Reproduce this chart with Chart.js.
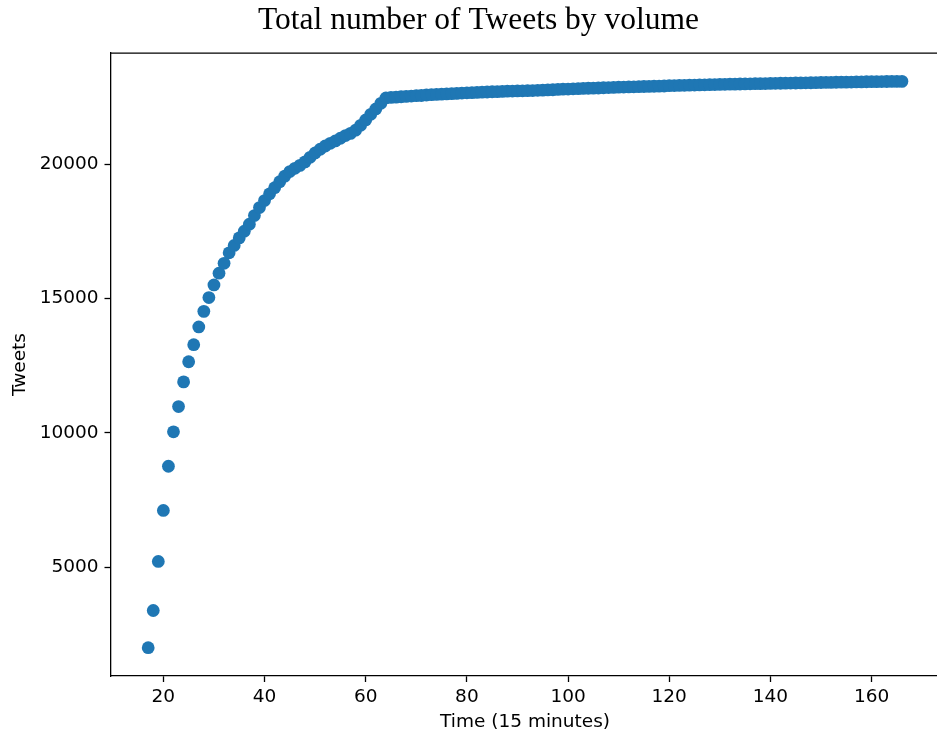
<!DOCTYPE html>
<html>
<head>
<meta charset="utf-8">
<title>Total number of Tweets by volume</title>
<script src="https://cdn.jsdelivr.net/npm/chart.js@4/dist/chart.umd.min.js"></script>
<style>
  html, body { margin: 0; padding: 0; background: #fff; overflow: hidden; }
  #wrap { width: 937px; height: 735px; overflow: hidden; }
</style>
</head>
<body>
<div id="wrap">
  <canvas id="tweetChart" width="946" height="735"></canvas>
</div>
<script>
// time step (15 minute buckets)
const timeSteps = [
  17, 18, 19, 20, 21, 22, 23, 24, 25, 26, 27, 28, 29, 30, 31, 32, 33, 34, 35, 36,
  37, 38, 39, 40, 41, 42, 43, 44, 45, 46, 47, 48, 49, 50, 51, 52, 53, 54, 55, 56,
  57, 58, 59, 60, 61, 62, 63, 64, 65, 66, 67, 68, 69, 70, 71, 72, 73, 74, 75, 76,
  77, 78, 79, 80, 81, 82, 83, 84, 85, 86, 87, 88, 89, 90, 91, 92, 93, 94, 95, 96,
  97, 98, 99, 100, 101, 102, 103, 104, 105, 106, 107, 108, 109, 110, 111, 112, 113, 114, 115, 116,
  117, 118, 119, 120, 121, 122, 123, 124, 125, 126, 127, 128, 129, 130, 131, 132, 133, 134, 135, 136,
  137, 138, 139, 140, 141, 142, 143, 144, 145, 146, 147, 148, 149, 150, 151, 152, 153, 154, 155, 156,
  157, 158, 159, 160, 161, 162, 163, 164, 165, 166
];

// running total of tweets at each step
const tweetTotals = [
  2005, 3390, 5215, 7115, 8760, 10040, 10980, 11900, 12650, 13285,
  13945, 14525, 15040, 15510, 15945, 16315, 16705, 16980, 17260, 17510,
  17770, 18090, 18390, 18650, 18900, 19130, 19350, 19560, 19730, 19850,
  19960, 20090, 20260, 20420, 20560, 20680, 20780, 20870, 20970, 21070,
  21150, 21270, 21450, 21650, 21860, 22060, 22270, 22470, 22490, 22500,
  22515, 22525, 22540, 22555, 22560, 22580, 22590, 22600, 22610, 22620,
  22630, 22640, 22650, 22660, 22665, 22675, 22685, 22690, 22700, 22705,
  22715, 22720, 22725, 22730, 22735, 22740, 22745, 22755, 22760, 22770,
  22775, 22785, 22795, 22800, 22810, 22815, 22825, 22830, 22835, 22840,
  22850, 22855, 22860, 22870, 22875, 22880, 22885, 22890, 22895, 22900,
  22905, 22910, 22915, 22925, 22930, 22935, 22940, 22945, 22950, 22955,
  22958, 22962, 22968, 22975, 22978, 22982, 22985, 22988, 22992, 22996,
  23000, 23003, 23006, 23010, 23013, 23016, 23020, 23023, 23026, 23030,
  23033, 23036, 23040, 23044, 23047, 23050, 23053, 23056, 23059, 23062,
  23065, 23068, 23072, 23075, 23077, 23079, 23081, 23083, 23084, 23086
];

const xTicks = [20, 40, 60, 80, 100, 120, 140, 160];
const yTicks = [5000, 10000, 15000, 20000];

const points = timeSteps.map((t, i) => ({ x: t, y: tweetTotals[i] }));

const labelFont = { family: 'DejaVu Sans', size: 18.5 };

// draws the top spine (chart.js only draws the axis borders)
const frameLine = {
  id: 'frameLine',
  afterDraw(chart) {
    const { ctx, chartArea } = chart;
    ctx.save();
    ctx.strokeStyle = '#000';
    ctx.lineWidth = 1.3;
    ctx.beginPath();
    ctx.moveTo(chartArea.left, chartArea.top);
    ctx.lineTo(chartArea.right, chartArea.top);
    ctx.stroke();
    ctx.restore();
  }
};

new Chart(document.getElementById('tweetChart').getContext('2d'), {
  type: 'scatter',
  data: {
    datasets: [{
      data: points,
      backgroundColor: '#1f77b4',
      borderWidth: 0,
      pointRadius: 6.4,
      pointHoverRadius: 6.4
    }]
  },
  plugins: [frameLine],
  options: {
    responsive: false,
    animation: false,
    layout: {
      padding: { left: 11, right: 0, top: 0, bottom: 0 }
    },
    plugins: {
      legend: { display: false },
      tooltip: { enabled: false },
      title: {
        display: true,
        text: 'Total number of Tweets by volume',
        color: '#000',
        font: { family: 'Liberation Serif', size: 31.5, weight: 'normal' },
        padding: { top: 2, bottom: 13.3 }
      }
    },
    scales: {
      x: {
        type: 'linear',
        min: 9.55,
        max: 173.45,
        afterBuildTicks: (scale) => {
          scale.ticks = xTicks.map(v => ({ value: v }));
        },
        afterFit: (scale) => {
          scale.height = 59;
        },
        ticks: {
          color: '#000',
          font: labelFont,
          padding: 4,
          autoSkip: false,
          maxRotation: 0,
          callback: (v) => String(v)
        },
        grid: {
          drawOnChartArea: false,
          drawTicks: true,
          tickLength: 6,
          tickWidth: 1.3,
          tickColor: '#000'
        },
        border: { display: true, color: '#000', width: 1.3 },
        title: {
          display: true,
          text: 'Time (15 minutes)',
          color: '#000',
          font: labelFont,
          padding: { top: 2, bottom: 2 }
        }
      },
      y: {
        type: 'linear',
        min: 951,
        max: 24139,
        afterBuildTicks: (scale) => {
          scale.ticks = yTicks.map(v => ({ value: v }));
        },
        afterFit: (scale) => {
          scale.width = 99.5;
        },
        ticks: {
          color: '#000',
          font: labelFont,
          padding: 6,
          autoSkip: false,
          callback: (v) => String(v)
        },
        grid: {
          drawOnChartArea: false,
          drawTicks: true,
          tickLength: 6,
          tickWidth: 1.3,
          tickColor: '#000'
        },
        border: { display: true, color: '#000', width: 1.3 },
        title: {
          display: true,
          text: 'Tweets',
          color: '#000',
          font: { family: 'DejaVu Sans', size: 18.5, lineHeight: 1 },
          padding: { top: 0, bottom: 0 }
        }
      }
    }
  }
});
</script>
</body>
</html>
